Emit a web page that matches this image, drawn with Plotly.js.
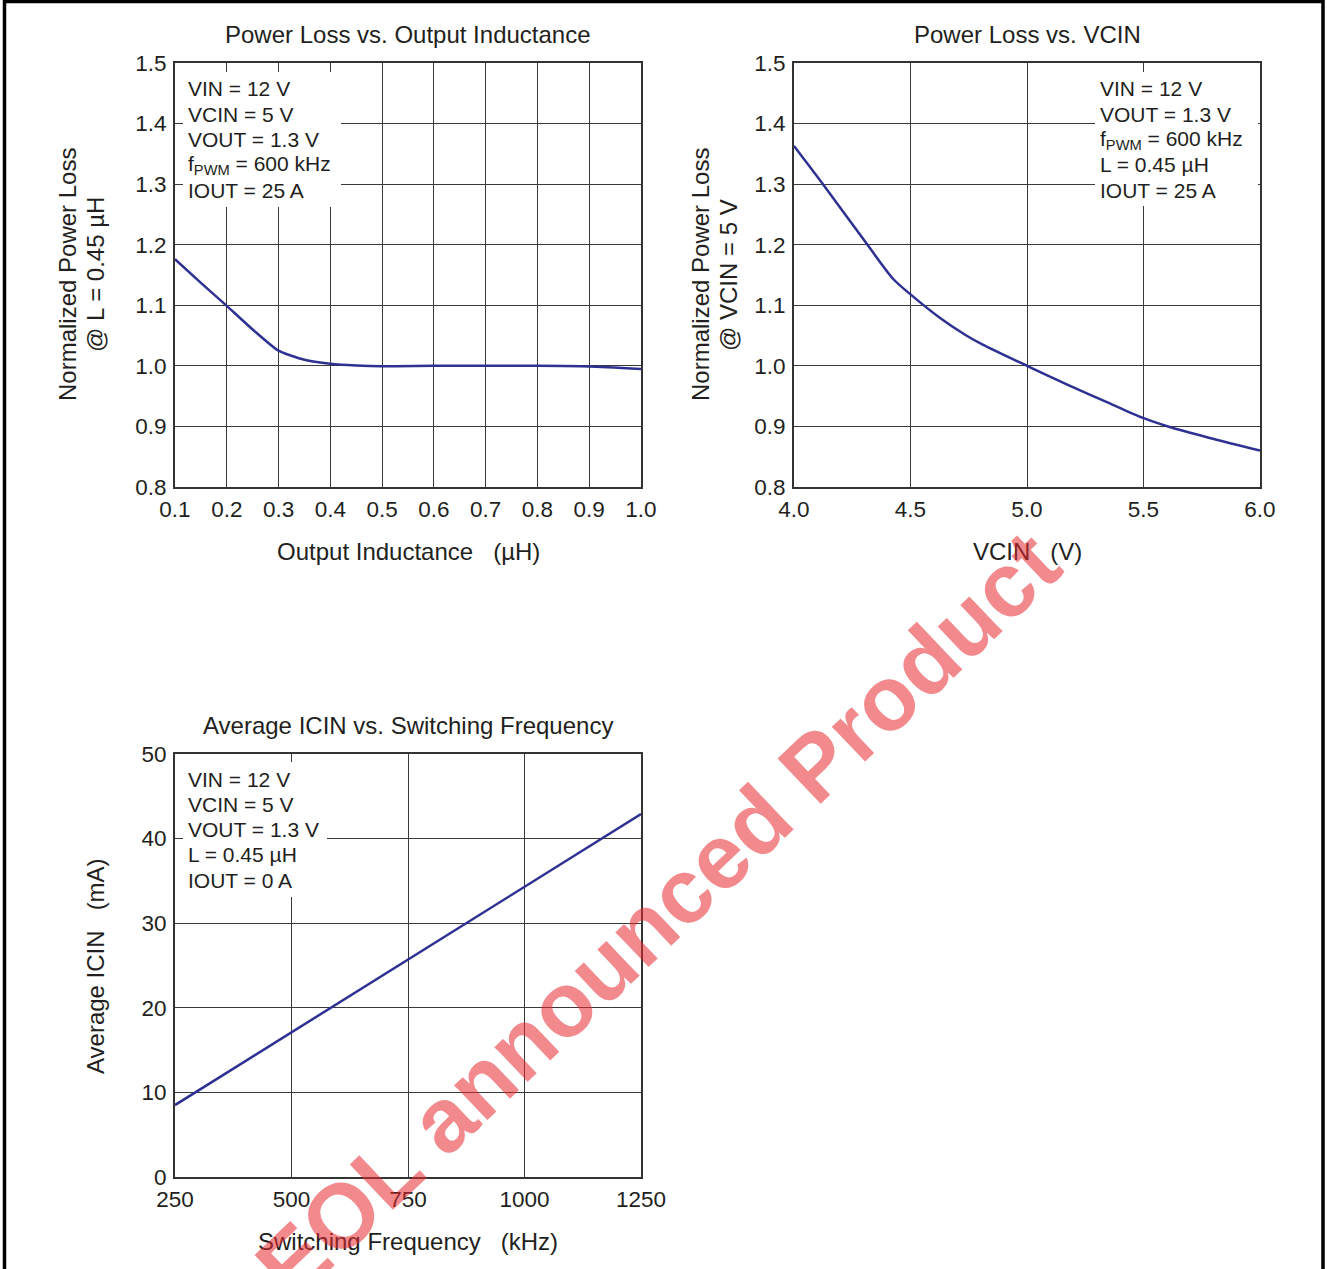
<!DOCTYPE html>
<html>
<head>
<meta charset="utf-8">
<script src="https://cdn.plot.ly/plotly-3.0.1.min.js"></script>
<style>
  html, body { margin: 0; padding: 0; background: #fff; }
  #chart { width: 1327px; height: 1269px; }
</style>
</head>
<body>
<div id="chart"></div>
<script>
// ---- Data ----
const inductance = [0.1, 0.15, 0.2, 0.25, 0.3, 0.35, 0.4, 0.45, 0.5, 0.6, 0.7, 0.8, 0.9, 1.0];
const lossVsL    = [1.176, 1.137, 1.099, 1.060, 1.025, 1.010, 1.0035, 1.0006, 0.9993, 1.0, 1.0, 1.0, 0.999, 0.995];

const vcin       = [4.0, 4.126, 4.317, 4.427, 4.5, 4.627, 4.736, 4.81, 5.0, 5.173, 5.338, 5.498, 5.612, 5.794, 6.0];
const lossVsVcin = [1.363, 1.299, 1.199, 1.143, 1.118, 1.079, 1.051, 1.035, 1.0, 0.969, 0.941, 0.914, 0.899, 0.880, 0.860];

const freq = [250, 500, 750, 1000, 1250];
const icin = [8.5, 17.1, 25.7, 34.3, 42.9];

const xTicksL    = [0.1, 0.2, 0.3, 0.4, 0.5, 0.6, 0.7, 0.8, 0.9, 1.0];
const yTicksLoss = [0.8, 0.9, 1.0, 1.1, 1.2, 1.3, 1.4, 1.5];
const xTicksV    = [4.0, 4.5, 5.0, 5.5, 6.0];
const xTicksF    = [250, 500, 750, 1000, 1250];
const yTicksI    = [0, 10, 20, 30, 40, 50];

const titles = ["Power Loss vs. Output Inductance", "Power Loss vs. VCIN", "Average ICIN vs. Switching Frequency"];
const notes1 = ["VIN = 12 V", "VCIN = 5 V", "VOUT = 1.3 V", "f<sub>PWM</sub> = 600 kHz", "IOUT = 25 A"];
const notes2 = ["VIN = 12 V", "VOUT = 1.3 V", "f<sub>PWM</sub> = 600 kHz", "L = 0.45 \u00b5H", "IOUT = 25 A"];
const notes3 = ["VIN = 12 V", "VCIN = 5 V", "VOUT = 1.3 V", "L = 0.45 \u00b5H", "IOUT = 0 A"];
const sp = "\u00a0\u00a0\u00a0";

// ---- Layout helpers ----
const W = 1327, H = 1269;
const px = x => x / W;
const py = y => 1 - y / H;
const FONT = '"Liberation Sans", Arial, Helvetica, sans-serif';
const TXT = '#231f20';
const LINE = '#2e3192';

function axisBase(extra) {
  return Object.assign({
    showline: true, mirror: true, linecolor: '#333', linewidth: 2,
    showgrid: true, gridcolor: '#3a3a3a', gridwidth: 1,
    zeroline: false, ticks: '', fixedrange: true,
    tickfont: { family: FONT, size: 22.5, color: TXT }
  }, extra);
}

const traces = [
  { x: inductance, y: lossVsL, xaxis: 'x', yaxis: 'y', type: 'scatter', mode: 'lines',
    line: { color: LINE, width: 2.5, shape: 'spline', smoothing: 0.6 }, hoverinfo: 'skip' },
  { x: vcin, y: lossVsVcin, xaxis: 'x2', yaxis: 'y2', type: 'scatter', mode: 'lines',
    line: { color: LINE, width: 2.5, shape: 'spline', smoothing: 0.8 }, hoverinfo: 'skip' },
  { x: freq, y: icin, xaxis: 'x3', yaxis: 'y3', type: 'scatter', mode: 'lines',
    line: { color: LINE, width: 2.5 }, hoverinfo: 'skip' }
];

function ann(text, x, y, size, opts) {
  return Object.assign({
    text: text, xref: 'paper', yref: 'paper', x: px(x), y: py(y),
    showarrow: false, xanchor: 'center', yanchor: 'middle',
    font: { family: FONT, size: size, color: TXT }
  }, opts || {});
}

function noteLines(lines, x, yFirst, step) {
  return lines.map((t, i) => ann(t, x, yFirst + i * step, 21, { xanchor: 'left', align: 'left' }));
}

function noteBox(x0, y0, x1, y1) {
  return { type: 'rect', xref: 'paper', yref: 'paper', layer: 'above',
    x0: px(x0), x1: px(x1), y0: py(y1), y1: py(y0),
    fillcolor: '#ffffff', line: { width: 0 } };
}

const layout = {
  width: W, height: H,
  margin: { l: 0, r: 0, t: 0, b: 0 },
  paper_bgcolor: '#ffffff', plot_bgcolor: '#ffffff',
  showlegend: false,
  font: { family: FONT, color: TXT },
  xaxis:  axisBase({ domain: [px(175), px(641)], range: [0.1, 1.0], tickvals: xTicksL, tickformat: '.1f', anchor: 'y', ticklabelstandoff: 1 }),
  yaxis:  axisBase({ domain: [py(487), py(63)], range: [0.8, 1.5], tickvals: yTicksLoss, tickformat: '.1f', anchor: 'x', ticklabelstandoff: 2 }),
  xaxis2: axisBase({ domain: [px(794), px(1260)], range: [4.0, 6.0], tickvals: xTicksV, tickformat: '.1f', anchor: 'y2', ticklabelstandoff: 1 }),
  yaxis2: axisBase({ domain: [py(487), py(63)], range: [0.8, 1.5], tickvals: yTicksLoss, tickformat: '.1f', anchor: 'x2', ticklabelstandoff: 2 }),
  xaxis3: axisBase({ domain: [px(175), px(641)], range: [250, 1250], tickvals: xTicksF, anchor: 'y3', ticklabelstandoff: 1 }),
  yaxis3: axisBase({ domain: [py(1177), py(754)], range: [0, 50], tickvals: yTicksI, anchor: 'x3', ticklabelstandoff: 2 }),
  shapes: [
    noteBox(183, 72, 341, 207),
    noteBox(1095, 72, 1258, 206),
    noteBox(183, 762, 327, 897),
    { type: 'path', xref: 'paper', yref: 'paper', layer: 'above',
      path: `M ${px(4.5)},${py(1290)} L ${px(4.5)},${py(1.5)} L ${px(1323)},${py(1.5)} L ${px(1323)},${py(1290)}`,
      line: { color: '#000', width: 3.5 } }
  ],
  annotations: [
    ann(titles[0], 408, 34, 24),
    ann(titles[1], 1027, 34, 24),
    ann(titles[2], 408, 725, 24),
    ann('Output Inductance' + sp + '(\u00b5H)', 408, 551, 24),
    ann('VCIN' + sp + '(V)', 1027, 551, 24),
    ann('Switching Frequency' + sp + '(kHz)', 408, 1241, 24),
    ann('Normalized Power Loss', 67, 275, 24, { textangle: -90 }),
    ann('@ L = 0.45 \u00b5H', 95, 275, 24, { textangle: -90 }),
    ann('Normalized Power Loss', 700, 275, 24, { textangle: -90 }),
    ann('@ VCIN = 5 V', 728, 275, 24, { textangle: -90 }),
    ann('Average ICIN' + sp + '(mA)', 95, 966, 24, { textangle: -90 })
  ].concat(
    noteLines(notes1, 186, 89, 25.3),
    noteLines(notes2, 1098, 89, 25.3),
    noteLines(notes3, 186, 779, 25.3),
    [ann('EOL announced Product', 657, 915, 91, {
      textangle: -43.5,
      font: { family: FONT, size: 91, color: 'rgba(232,40,48,0.55)', weight: 'bold' }
    })]
  )
};

Plotly.newPlot('chart', traces, layout, { staticPlot: true, displayModeBar: false });
</script>
</body>
</html>
